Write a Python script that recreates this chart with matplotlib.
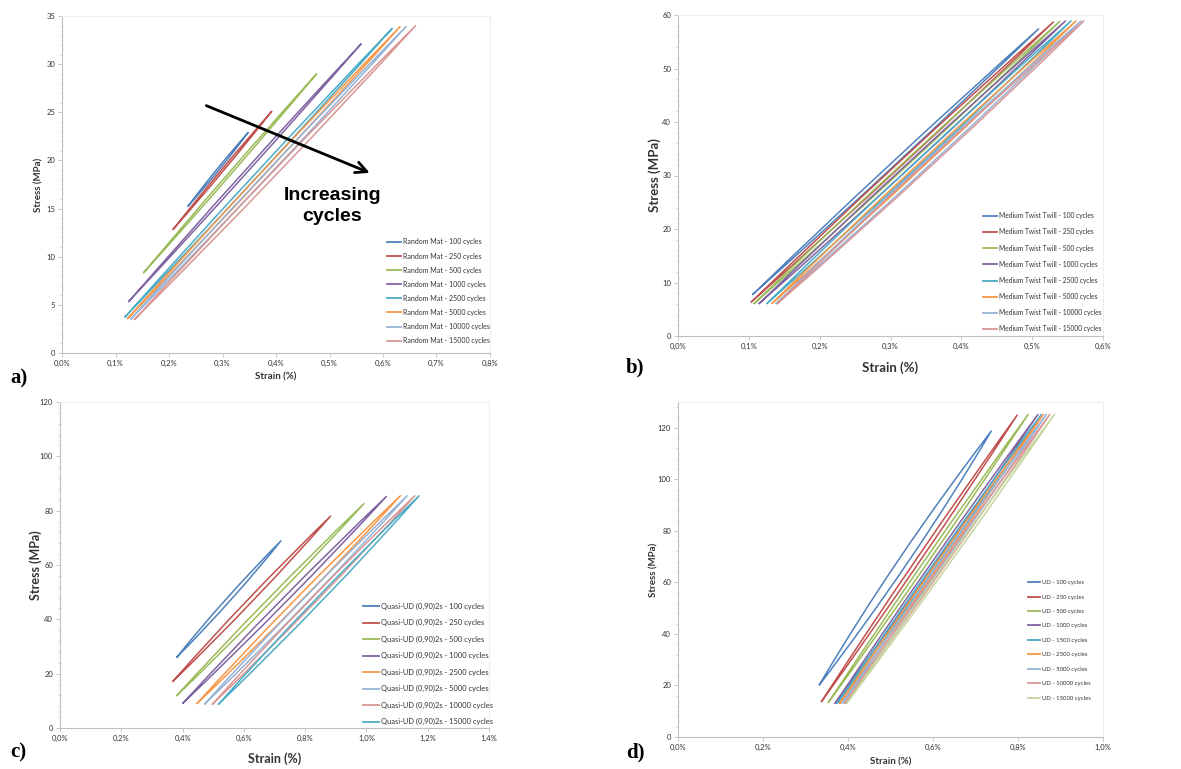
import matplotlib
matplotlib.use("Agg")
import matplotlib.pyplot as plt
from matplotlib.lines import Line2D
from matplotlib.patches import PathPatch
from matplotlib.path import Path
from matplotlib.ticker import FuncFormatter, MultipleLocator

plt.rcParams['font.family'] = ['Lato', 'DejaVu Sans']

EXCEL = ["#4F81BD", "#C0504D", "#9BBB59", "#8064A2", "#4BACC6",
         "#F79646", "#95B3D7", "#D99694", "#C3D69B"]

# --- a) Random Mat -------------------------------------------------------
a_cycles = [100, 250, 500, 1000, 2500, 5000, 10000, 15000]
a_strain_min = [0.235, 0.207, 0.152, 0.124, 0.117, 0.122, 0.128, 0.135]
a_stress_min = [15.2, 12.8, 8.3, 5.3, 3.7, 3.55, 3.5, 3.45]
a_strain_max = [0.348, 0.392, 0.476, 0.559, 0.617, 0.632, 0.643, 0.661]
a_stress_max = [22.9, 25.1, 29.0, 32.1, 33.7, 33.9, 33.9, 34.0]
a_width = [0.005, 0.005, 0.006, 0.007, 0.009, 0.010, 0.011, 0.012]

# --- b) Medium Twist Twill -----------------------------------------------
b_cycles = [100, 250, 500, 1000, 2500, 5000, 10000, 15000]
b_strain_min = [0.105, 0.103, 0.107, 0.114, 0.125, 0.132, 0.138, 0.140]
b_stress_min = [7.7, 6.3, 6.0, 6.0, 6.0, 6.0, 6.0, 6.0]
b_strain_max = [0.509, 0.530, 0.539, 0.547, 0.555, 0.562, 0.569, 0.573]
b_stress_max = [57.4, 58.7, 58.8, 58.9, 58.9, 58.9, 58.9, 58.9]
b_width = [0.008, 0.009, 0.010, 0.010, 0.011, 0.011, 0.012, 0.013]

# --- c) Quasi-UD ----------------------------------------------------------
c_cycles = [100, 250, 500, 1000, 2500, 5000, 10000, 15000]
c_strain_min = [0.380, 0.367, 0.380, 0.400, 0.446, 0.471, 0.496, 0.516]
c_stress_min = [25.9, 17.0, 11.8, 9.0, 8.9, 8.7, 8.6, 8.6]
c_strain_max = [0.721, 0.883, 0.992, 1.065, 1.111, 1.133, 1.158, 1.172]
c_stress_max = [68.9, 78.0, 82.6, 85.2, 85.5, 85.5, 85.5, 85.5]
c_width = [0.018, 0.020, 0.020, 0.022, 0.024, 0.024, 0.025, 0.026]

# --- d) UD ----------------------------------------------------------------
d_cycles = [100, 250, 500, 1000, 1500, 2500, 5000, 10000, 15000]
d_strain_min = [0.332, 0.337, 0.353, 0.369, 0.374, 0.380, 0.386, 0.392, 0.396]
d_stress_min = [20.1, 13.6, 13.2, 12.9, 12.9, 12.9, 12.9, 12.9, 12.9]
d_strain_max = [0.737, 0.798, 0.824, 0.847, 0.855, 0.860, 0.867, 0.875, 0.886]
d_stress_max = [118.7, 124.9, 125.2, 125.2, 125.2, 125.2, 125.2, 125.2, 125.2]
d_width = [0.026, 0.012, 0.011, 0.011, 0.011, 0.011, 0.011, 0.011, 0.011]

W, H = 1181, 769


def rect(l, t, r, b):
    return [l / W, 1 - b / H, (r - l) / W, (b - t) / H]


def pct(v, _):
    return f"{v:.1f}%".replace(".", ",")


def loop(ax, x0, y0, x1, y1, w, color):
    # lens-shaped hysteresis loop: two quadratic curves between the end points
    xm, ym = (x0 + x1) / 2, (y0 + y1) / 2
    verts = [(x0, y0), (xm + w, ym), (x1, y1), (xm - w, ym), (x0, y0)]
    codes = [Path.MOVETO, Path.CURVE3, Path.CURVE3, Path.CURVE3, Path.CURVE3]
    ax.add_patch(PathPatch(Path(verts, codes), fill=False, ec=color,
                           lw=1.1, joinstyle="round"))


def panel(ax, prefix, cycles, x0, y0, x1, y1, wid, colors,
          xmax, xstep, ymax, ystep, leg, fs_lab, ylab_x, xlab_y):
    handles = []
    for i, n in enumerate(cycles):
        loop(ax, x0[i], y0[i], x1[i], y1[i], wid[i], colors[i])
        handles.append(Line2D([], [], color=colors[i], lw=1.3,
                              label=f"{prefix} - {n} cycles"))
    ax.set_xlim(0, xmax)
    ax.set_ylim(0, ymax)
    ax.xaxis.set_major_locator(MultipleLocator(xstep))
    ax.xaxis.set_major_formatter(FuncFormatter(pct))
    ax.yaxis.set_major_locator(MultipleLocator(ystep))
    ax.yaxis.set_minor_locator(MultipleLocator(ystep / 5))
    ax.tick_params(labelsize=5.5, colors="#333333", length=3, width=0.6,
                   pad=2, color="#BFBFBF")
    ax.tick_params(which="minor", length=1.5, width=0.5, color="#BFBFBF")
    for s in ["left", "bottom"]:
        ax.spines[s].set_color("#BFBFBF")
        ax.spines[s].set_linewidth(0.8)
    for s in ["top", "right"]:
        ax.spines[s].set_color("#EEEEEE")
        ax.spines[s].set_linewidth(0.8)
    ax.set_xlabel("Strain (%)", fontsize=fs_lab, fontweight="bold",
                  color="#333333")
    ax.set_ylabel("Stress (MPa)", fontsize=fs_lab, fontweight="bold",
                  color="#333333")
    ax.xaxis.set_label_coords(0.5, xlab_y)
    ax.yaxis.set_label_coords(ylab_x, 0.5)
    lx, ly, fs, sp, hl = leg
    ax.legend(handles=handles, loc="upper left",
              bbox_to_anchor=(lx / W, 1 - ly / H),
              bbox_transform=ax.figure.transFigure, frameon=False,
              fontsize=fs, labelspacing=sp, handlelength=hl,
              handletextpad=0.3, borderpad=0, labelcolor="#333333")


fig = plt.figure(figsize=(W / 100, H / 100), dpi=100)
ax_a = fig.add_axes(rect(62, 16, 490, 353))
ax_b = fig.add_axes(rect(678, 15, 1103, 336))
ax_c = fig.add_axes(rect(60, 402, 489, 728))
ax_d = fig.add_axes(rect(678, 402, 1103, 737))

col8 = EXCEL[:8]
col_c = ["#4F81BD", "#C0504D", "#9BBB59", "#8064A2", "#F79646",
         "#95B3D7", "#D99694", "#4BACC6"]

panel(ax_a, "Random Mat", a_cycles, a_strain_min, a_stress_min,
      a_strain_max, a_stress_max, a_width, col8,
      0.8, 0.1, 35, 5, (384, 235, 5.0, 1.02, 2.0), 7, -0.044, -0.059)
panel(ax_b, "Medium Twist Twill", b_cycles, b_strain_min, b_stress_min,
      b_strain_max, b_stress_max, b_width, col8,
      0.6, 0.1, 60, 10, (980, 209, 4.8, 1.37, 2.0), 9.5, -0.040, -0.078)
panel(ax_c, "Quasi-UD (0,90)2s", c_cycles, c_strain_min, c_stress_min,
      c_strain_max, c_stress_max, c_width, col_c,
      1.4, 0.2, 120, 20, (359, 599, 5.4, 1.24, 2.1), 9, -0.042, -0.074)
panel(ax_d, "UD", d_cycles, d_strain_min, d_stress_min,
      d_strain_max, d_stress_max, d_width, EXCEL,
      1.0, 0.2, 130, 20, (1025, 577, 4.3, 1.55, 2.0), 7, -0.045, -0.060)

# arrow + annotation in panel a
ax_a.annotate("", xy=(0.58, 18.6), xytext=(0.265, 25.8),
              arrowprops=dict(arrowstyle="->", lw=2, color="black",
                              mutation_scale=20))
ax_a.text(0.505, 15.3, "Increasing\ncycles", fontsize=14, fontweight="bold",
          ha="center", va="center", linespacing=1.3,
          family=["Liberation Sans", "DejaVu Sans"])

for lab, x, y in [("a)", 10, 378), ("b)", 626, 367), ("c)", 10, 752), ("d)", 626, 752)]:
    fig.text(x / W, 1 - y / H, lab, fontsize=15, fontweight="bold",
             family=["Liberation Serif", "DejaVu Serif"], va="center")

fig.savefig("out.png", dpi=100)
